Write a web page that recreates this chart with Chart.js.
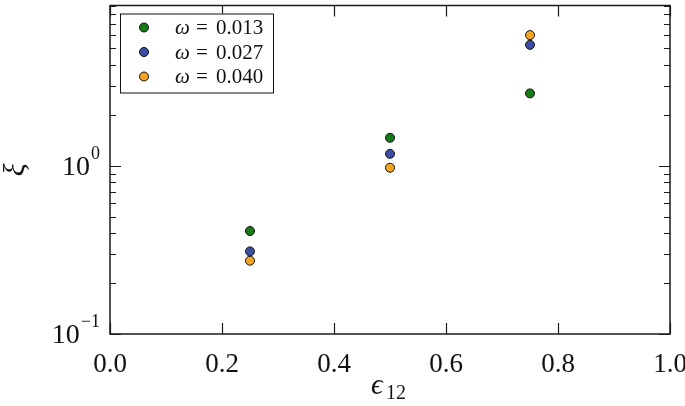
<!DOCTYPE html>
<html>
<head>
<meta charset="utf-8">
<script src="https://cdn.jsdelivr.net/npm/chart.js@4.4.1/dist/chart.umd.min.js"></script>
<style>
  html, body { margin: 0; padding: 0; background: #fff; }
  #wrap { width: 685px; height: 406px; }
</style>
</head>
<body>
<div id="wrap"><canvas id="xiChart" width="685" height="406"></canvas></div>
<script>
// values
const eps12 = [0.25, 0.5, 0.75];
const xiW013 = [0.41, 1.47, 2.70];
const xiW027 = [0.31, 1.18, 5.25];
const xiW040 = [0.273, 0.975, 6.0];
const omegaLabels = ["0.013", "0.027", "0.040"];
const xTicks = [0.0, 0.2, 0.4, 0.6, 0.8, 1.0];
const yDecades = [0.1, 1];

const SERIF = "'Liberation Serif', 'DejaVu Serif', serif";
const colors = ["#157a17", "#3b4ea2", "#f5a424"];

function pts(ys) {
  return eps12.map((x, i) => ({ x: x, y: ys[i] }));
}

const series = [xiW013, xiW027, xiW040];

// axis frame, inward ticks, log labels, titles and legend
const decorPlugin = {
  id: "decor",
  afterDraw(chart) {
    const ctx = chart.ctx;
    const { left, right, top, bottom } = chart.chartArea;
    const xs = chart.scales.x, ys = chart.scales.y;
    ctx.save();
    ctx.strokeStyle = "#1a1a1a";
    ctx.lineWidth = 1.5;
    ctx.strokeRect(left, top, right - left, bottom - top);

    // x ticks on bottom and top
    ctx.lineWidth = 1.2;
    xTicks.forEach(v => {
      const px = Math.round(xs.getPixelForValue(v)) + 0.5;
      ctx.beginPath();
      ctx.moveTo(px, bottom); ctx.lineTo(px, bottom - 11);
      ctx.moveTo(px, top); ctx.lineTo(px, top + 11);
      ctx.stroke();
    });

    // y ticks (log, majors + minors) on left and right
    for (let e = -1; e <= 0; e++) {
      for (let m = 1; m <= 9; m++) {
        const v = m * Math.pow(10, e);
        if (v < ys.min - 1e-9 || v > ys.max + 1e-9) continue;
        const py = Math.round(ys.getPixelForValue(v)) + 0.5;
        const len = m === 1 ? 11 : 6;
        ctx.beginPath();
        ctx.moveTo(left, py); ctx.lineTo(left + len, py);
        ctx.moveTo(right, py); ctx.lineTo(right - len, py);
        ctx.stroke();
      }
    }

    // y tick labels 10^-1, 10^0
    ctx.fillStyle = "#111";
    yDecades.forEach(v => {
      const py = ys.getPixelForValue(v);
      const exp = String(Math.round(Math.log10(v))).replace("-", "\u2212");
      ctx.font = "18px " + SERIF;
      const ew = ctx.measureText(exp).width;
      const ex = left - 10 - ew;
      ctx.textAlign = "left";
      ctx.textBaseline = "alphabetic";
      ctx.fillText(exp, ex, py - 7);
      ctx.font = "28px " + SERIF;
      ctx.textAlign = "right";
      ctx.fillText("10", ex - 1, py + 9);
    });

    // x axis title
    ctx.textAlign = "left";
    ctx.textBaseline = "alphabetic";
    ctx.font = "italic 29px " + SERIF;
    const cx = (left + right) / 2;
    ctx.fillText("\u03F5", cx - 19, 394);
    ctx.font = "20px " + SERIF;
    ctx.fillText("12", cx - 4, 399);

    // y axis title
    ctx.save();
    ctx.translate(24, (top + bottom) / 2);
    ctx.rotate(-Math.PI / 2);
    ctx.textAlign = "center";
    ctx.font = "italic 30px " + SERIF;
    ctx.fillText("\u03BE", 0, 0);
    ctx.restore();

    // legend
    const lx = left + 10, ly = top + 8, lw = 153, lh = 79;
    ctx.fillStyle = "#fff";
    ctx.fillRect(lx, ly, lw, lh);
    ctx.lineWidth = 1;
    ctx.strokeStyle = "#111";
    ctx.strokeRect(lx + 0.5, ly + 0.5, lw, lh);
    chart.data.datasets.forEach((ds, i) => {
      const yy = ly + 14 + i * 24.5;
      ctx.beginPath();
      ctx.arc(lx + 24, yy, 4.5, 0, Math.PI * 2);
      ctx.fillStyle = ds.backgroundColor;
      ctx.fill();
      ctx.strokeStyle = "#111";
      ctx.stroke();
      ctx.fillStyle = "#111";
      ctx.textBaseline = "middle";
      ctx.textAlign = "left";
      ctx.font = "italic 21px " + SERIF;
      ctx.fillText("\u03C9", lx + 55, yy + 1);
      ctx.font = "21px " + SERIF;
      ctx.fillText("=", lx + 76, yy + 1);
      ctx.fillText(omegaLabels[i], lx + 96, yy + 1);
    });
    ctx.restore();
  }
};

new Chart(document.getElementById("xiChart"), {
  type: "scatter",
  data: {
    datasets: series.map((s, i) => ({
      label: "\u03C9 = " + omegaLabels[i],
      data: pts(s),
      backgroundColor: colors[i],
      borderColor: "#111",
      borderWidth: 1,
      pointRadius: 4.5,
      pointHoverRadius: 4.5
    }))
  },
  options: {
    responsive: false,
    animation: false,
    events: [],
    layout: { padding: { top: 3, right: 15, left: 0, bottom: 0 } },
    plugins: {
      legend: { display: false },
      tooltip: { enabled: false }
    },
    scales: {
      x: {
        type: "linear",
        min: 0,
        max: 1,
        grid: { display: false },
        border: { display: false },
        afterFit: (scale) => {
          scale.height = 72;
          scale.paddingLeft = 0;
          scale.paddingRight = 0;
        },
        afterBuildTicks: (scale) => { scale.ticks = xTicks.map(v => ({ value: v })); },
        ticks: {
          color: "#111",
          padding: 7,
          font: { family: SERIF, size: 27 },
          callback: (v) => Number(v).toFixed(1)
        }
      },
      y: {
        type: "logarithmic",
        min: 0.1,
        max: 9,
        grid: { display: false },
        border: { display: false },
        afterFit: (scale) => { scale.width = 110; },
        ticks: { display: false }
      }
    }
  },
  plugins: [decorPlugin]
});
</script>
</body>
</html>
